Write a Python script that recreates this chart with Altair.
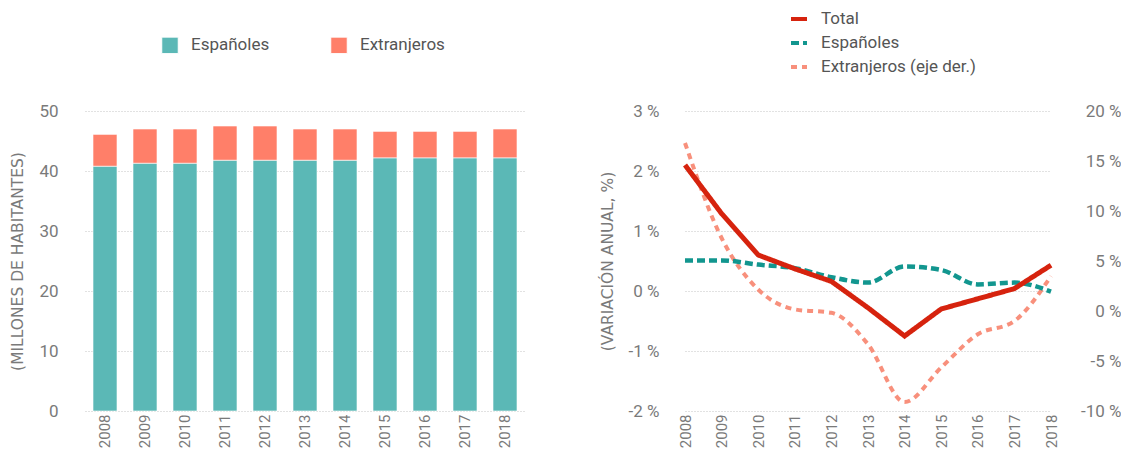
import altair as alt
import pandas as pd

# ---- data ----
years = [str(y) for y in range(2008, 2019)]
espanoles = [40.8, 41.3, 41.3, 41.8, 41.8, 41.8, 41.8, 42.2, 42.2, 42.2, 42.2]
extranjeros = [5.3, 5.7, 5.7, 5.7, 5.7, 5.2, 5.2, 4.4, 4.4, 4.4, 4.8]

var_total = [2.10, 1.29, 0.60, 0.37, 0.16, -0.28, -0.75, -0.30, -0.13, 0.04, 0.43]
var_esp = [0.51, 0.51, 0.44, 0.38, 0.23, 0.14, 0.41, 0.35, 0.11, 0.14, -0.01]
var_ext = [16.8, 7.3, 2.15, 0.16, -0.18, -3.33, -9.1, -5.65, -2.33, -1.0, 3.48]

grupos = ["Españoles", "Extranjeros"]
series = ["Total", "Españoles", "Extranjeros (eje der.)"]

FONT = "Roboto"
TFONT = "DejaVu Sans"
GREY = "#7a7a7a"
NOLINE = "transparent"

bar_df = pd.DataFrame({
    "Año": years * 2,
    "Grupo": [grupos[0]] * len(years) + [grupos[1]] * len(years),
    "Valor": espanoles + extranjeros,
    "orden": [0] * len(years) + [1] * len(years),
})

left_df = pd.DataFrame({
    "Año": years * 2,
    "Serie": [series[0]] * len(years) + [series[1]] * len(years),
    "Valor": var_total + var_esp,
})
ext_df = pd.DataFrame({"Año": years, "Serie": [series[2]] * len(years), "Valor": var_ext})

x_axis = alt.Axis(title=None, labelAngle=-90, labelFontSize=15, labelColor=GREY, grid=False,
                  labelPadding=3, ticks=False, domain=False, domainColor=NOLINE, labelFont=FONT)

# ---- left: stacked bars ----
bars = alt.Chart(bar_df).mark_bar(stroke="white", strokeWidth=1, strokeOpacity=0.6).encode(
    x=alt.X("Año:N", sort=years, scale=alt.Scale(paddingInner=0.4, paddingOuter=0.2), axis=x_axis),
    y=alt.Y("Valor:Q", stack="zero", scale=alt.Scale(domain=[0, 50]),
            axis=alt.Axis(values=[0, 10, 20, 30, 40, 50], title="(MILLONES DE HABITANTES)",
                          titleFontSize=15.5, titleFontWeight="normal", titleColor=GREY, titlePadding=13,
                          labelFontSize=17, labelColor=GREY, labelPadding=27, ticks=False, domain=False,
                          domainColor=NOLINE, grid=True, gridColor="#c4c4c4", gridDash=[1, 2],
                          labelFont=FONT, titleFont=TFONT)),
    color=alt.Color("Grupo:N", scale=alt.Scale(domain=grupos, range=["#5BB8B6", "#FF7F69"]),
                    legend=alt.Legend(title=None, orient="none", direction="horizontal",
                                      legendX=76, legendY=-75, symbolType="square", symbolSize=272,
                                      symbolStrokeColor="white", symbolStrokeWidth=1,
                                      labelFontSize=17, labelColor="#555555", labelFont=FONT,
                                      labelOffset=12, columnPadding=58)),
    order=alt.Order("orden:Q", sort="ascending"),
).properties(width=440, height=300)

# ---- right: lines with dual axis ----
color_scale = alt.Scale(domain=series, range=["#D6230E", "#12968F", "#F8907C"])
dash_scale = alt.Scale(domain=series, range=[[1, 0], [8, 4], [6, 5]])
legend_spec = alt.Legend(title=None, orient="none", direction="vertical", legendX=104, legendY=-102,
                         symbolType="stroke", symbolSize=256, symbolStrokeWidth=4,
                         labelFontSize=17, labelColor="#555555", labelFont=FONT,
                         labelOffset=12, rowPadding=6)

x_line = alt.X("Año:O", sort=years, scale=alt.Scale(type="point", padding=0), axis=x_axis)

left_axis = alt.Axis(values=[-2, -1, 0, 1, 2, 3], labelExpr="datum.value + ' %'", orient="left",
                     title="(VARIACIÓN ANUAL, %)", titleFontSize=15.5, titleFontWeight="normal",
                     titleColor=GREY, titlePadding=13, labelFontSize=17, labelColor=GREY,
                     labelPadding=26, ticks=False, domain=False, domainColor=NOLINE, grid=True,
                     gridColor="#c4c4c4", gridDash=[1, 2], labelFont=FONT, titleFont=TFONT)
right_axis = alt.Axis(values=[-10, -5, 0, 5, 10, 15, 20], labelExpr="datum.value + ' %'", orient="right",
                      title=None, labelFontSize=17, labelColor=GREY, labelAlign="right",
                      labelPadding=70, ticks=False, domain=False, domainColor=NOLINE, grid=False,
                      labelFont=FONT)

ext_line = alt.Chart(ext_df).mark_line(strokeWidth=4, interpolate="monotone").encode(
    x=x_line,
    y=alt.Y("Valor:Q", scale=alt.Scale(domain=[-10, 20]), axis=right_axis),
    color=alt.Color("Serie:N", scale=color_scale, legend=legend_spec),
    strokeDash=alt.StrokeDash("Serie:N", scale=dash_scale, legend=legend_spec),
)

esp_line = alt.Chart(left_df).transform_filter(alt.datum.Serie == series[1]).mark_line(
    strokeWidth=4.5, interpolate="monotone").encode(
    x=x_line,
    y=alt.Y("Valor:Q", scale=alt.Scale(domain=[-2, 3]), axis=left_axis),
    color=alt.Color("Serie:N", scale=color_scale, legend=legend_spec),
    strokeDash=alt.StrokeDash("Serie:N", scale=dash_scale, legend=legend_spec),
)
tot_line = alt.Chart(left_df).transform_filter(alt.datum.Serie == series[0]).mark_line(
    strokeWidth=5).encode(
    x=x_line,
    y=alt.Y("Valor:Q", scale=alt.Scale(domain=[-2, 3]), axis=left_axis),
    color=alt.Color("Serie:N", scale=color_scale, legend=legend_spec),
    strokeDash=alt.StrokeDash("Serie:N", scale=dash_scale, legend=legend_spec),
)

right = alt.layer(ext_line, alt.layer(esp_line, tot_line)).resolve_scale(y="independent").properties(
    width=366, height=300)

chart = alt.hconcat(bars, right, spacing=160, bounds="flush").resolve_scale(
    color="independent", strokeDash="independent"
).properties(
    padding={"left": 2, "top": 1, "right": 0, "bottom": 0}
).configure_view(stroke=NOLINE, strokeWidth=0).configure_axis(
    domain=False, ticks=False, domainColor=NOLINE
).configure_axisX(grid=False, domain=False).configure_axisY(domain=False).configure_axisBand(
    grid=False, domain=False
).configure(font=FONT, background="white", style={"cell": {"stroke": NOLINE, "strokeWidth": 0}})

chart.save("out.html", embed_options={"renderer": "svg", "actions": False})
